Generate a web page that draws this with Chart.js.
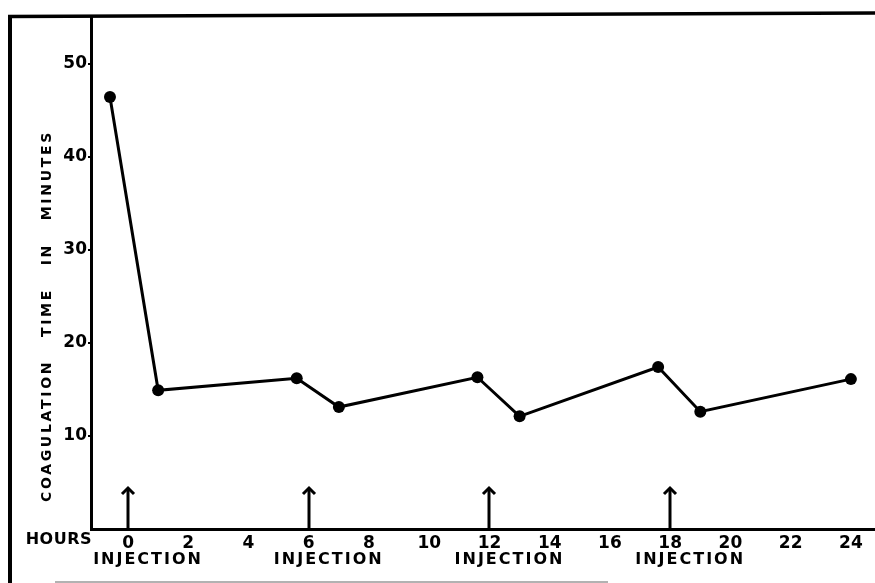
<!DOCTYPE html>
<html>
<head>
<meta charset="utf-8">
<script src="https://cdn.jsdelivr.net/npm/chart.js@4.4.1/dist/chart.umd.min.js"></script>
<style>
  html, body { margin: 0; padding: 0; background: #fff; }
  canvas { display: block; }
</style>
</head>
<body>
<canvas id="coag" width="875" height="583"></canvas>
<script>
(() => {
  // hours after the first injection, coagulation time in minutes
  const hours = [-0.6, 1.0, 5.6, 7.0, 11.6, 13.0, 17.6, 19.0, 24.0];
  const minutes = [46.4, 14.9, 16.2, 13.1, 16.3, 12.1, 17.4, 12.6, 16.1];

  const xTickValues = [0, 2, 4, 6, 8, 10, 12, 14, 16, 18, 20, 22, 24];
  const yTickValues = [10, 20, 30, 40, 50];

  const injectionHours = [0, 6, 12, 18];
  const arrowTop = 4.4;

  const yTitle = "COAGULATION   TIME   IN   MINUTES";
  const font = "'DejaVu Sans', sans-serif";

  const decorations = {
    id: "decorations",
    afterDraw(chart) {
      const { ctx, scales: { x, y } } = chart;
      ctx.save();
      ctx.strokeStyle = "#000";
      ctx.fillStyle = "#000";
      ctx.lineCap = "butt";

      // outer frame of the printed figure
      ctx.lineWidth = 4;
      ctx.beginPath();
      ctx.moveTo(10, 15);
      ctx.lineTo(10, 583);
      ctx.stroke();
      ctx.lineWidth = 3.5;
      ctx.beginPath();
      ctx.moveTo(8, 16.5);
      ctx.lineTo(875, 13);
      ctx.stroke();
      ctx.strokeStyle = "#999";
      ctx.lineWidth = 1.5;
      ctx.beginPath();
      ctx.moveTo(55, 582);
      ctx.lineTo(608, 582);
      ctx.stroke();

      // injection arrows
      ctx.strokeStyle = "#000";
      ctx.lineWidth = 3;
      const base = y.getPixelForValue(0);
      const tip = y.getPixelForValue(arrowTop);
      injectionHours.forEach(h => {
        const px = Math.round(x.getPixelForValue(h));
        ctx.beginPath();
        ctx.moveTo(px, base);
        ctx.lineTo(px, tip);
        ctx.stroke();
        ctx.beginPath();
        ctx.moveTo(px - 6, tip + 6);
        ctx.lineTo(px, tip);
        ctx.lineTo(px + 6, tip + 6);
        ctx.stroke();
      });

      // labels under the axis
      ctx.font = "bold 16px " + font;
      ctx.textBaseline = "middle";
      ctx.letterSpacing = "2px";
      ctx.textAlign = "center";
      injectionHours.forEach(h => {
        ctx.fillText("INJECTION", x.getPixelForValue(h) + 20, 560);
      });
      ctx.letterSpacing = "0.5px";
      ctx.textAlign = "right";
      ctx.fillText("HOURS", 92, 540);

      // y axis title
      ctx.translate(47, 316);
      ctx.rotate(-Math.PI / 2);
      ctx.textAlign = "center";
      ctx.font = "bold 14px " + font;
      ctx.letterSpacing = "2.7px";
      ctx.fillText(yTitle, 0, 0);
      ctx.restore();
    }
  };

  new Chart(document.getElementById("coag").getContext("2d"), {
    type: "line",
    data: {
      datasets: [{
        data: hours.map((h, i) => ({ x: h, y: minutes[i] })),
        borderColor: "#000",
        backgroundColor: "#000",
        borderWidth: 3,
        pointRadius: 6,
        pointBorderWidth: 0,
        tension: 0,
        clip: false
      }]
    },
    options: {
      responsive: false,
      animation: false,
      layout: { autoPadding: false, padding: { top: 17, left: 0, right: 0, bottom: 0 } },
      plugins: {
        legend: { display: false },
        tooltip: { enabled: false }
      },
      scales: {
        x: {
          type: "linear",
          min: -1.23,
          max: 24.8,
          afterBuildTicks: scale => { scale.ticks = xTickValues.map(v => ({ value: v })); },
          afterFit: scale => {
            scale.height = 54;
            scale.paddingLeft = 0;
            scale.paddingRight = 0;
          },
          border: { display: true, color: "#000", width: 3 },
          grid: { display: false, drawTicks: false },
          ticks: {
            color: "#000",
            padding: 4,
            maxRotation: 0,
            autoSkip: false,
            font: { family: font, size: 17, weight: "bold" }
          }
        },
        y: {
          min: 0,
          max: 55,
          afterBuildTicks: scale => { scale.ticks = yTickValues.map(v => ({ value: v })); },
          afterFit: scale => {
            scale.width = 91;
            scale.paddingTop = 0;
            scale.paddingBottom = 0;
          },
          border: { display: true, color: "#000", width: 3 },
          grid: { drawOnChartArea: false, color: "#000", lineWidth: 2, tickLength: 3 },
          ticks: {
            color: "#000",
            padding: 1,
            font: { family: font, size: 17, weight: "bold" }
          }
        }
      }
    },
    plugins: [decorations]
  });
})();
</script>
</body>
</html>
